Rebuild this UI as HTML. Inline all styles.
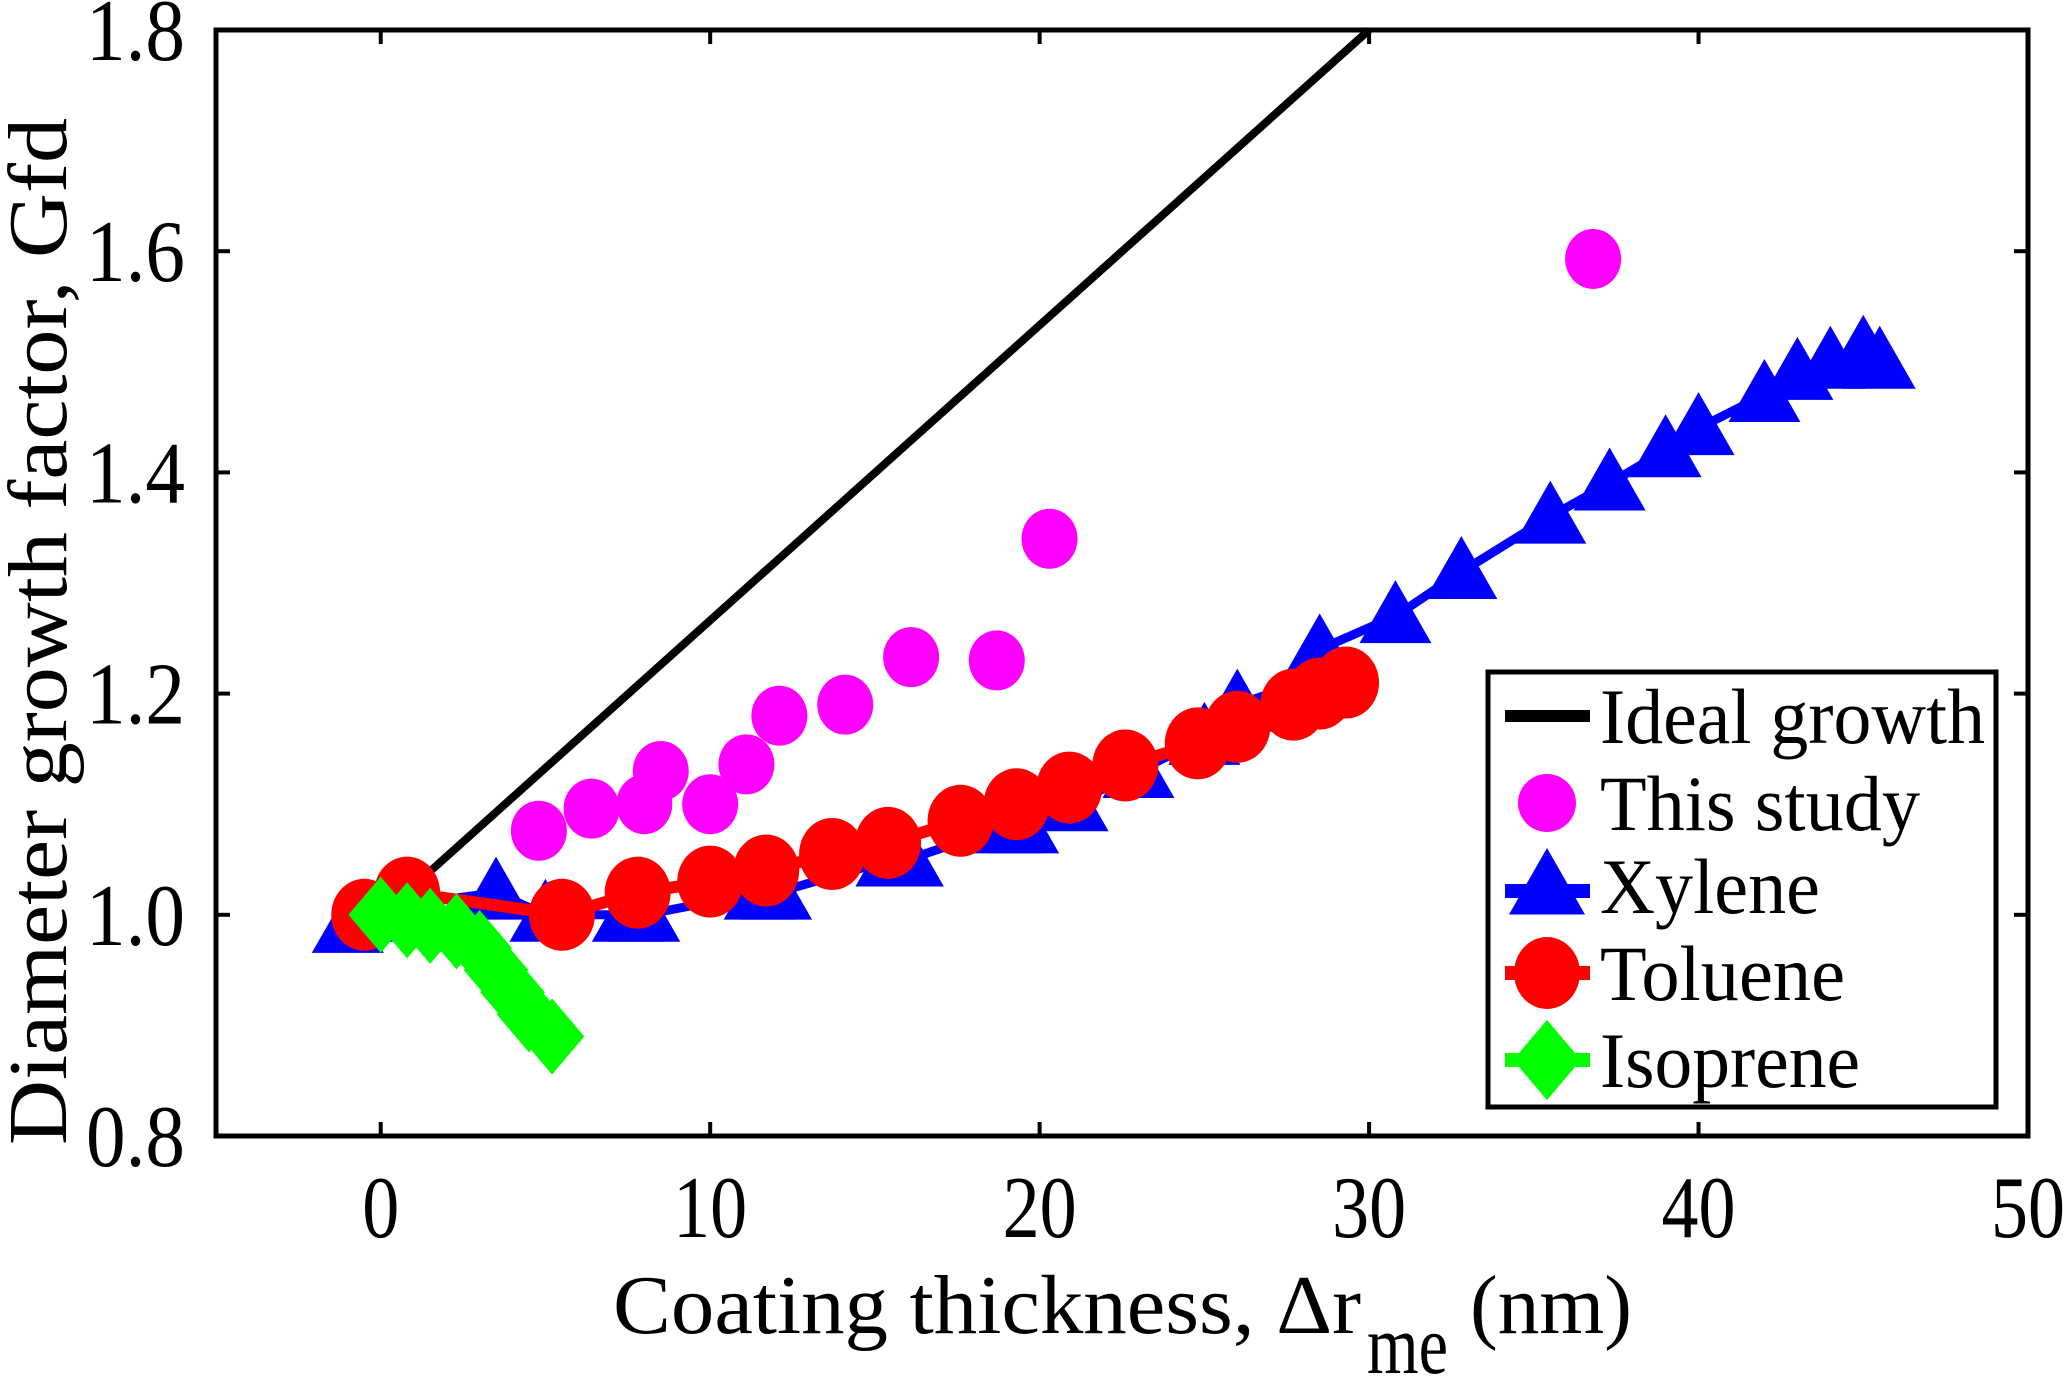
<!DOCTYPE html>
<html><head><meta charset="utf-8"><style>
html,body{margin:0;padding:0;background:#fff;}
svg{display:block;font-family:"Liberation Serif",serif;}
</style></head><body>
<svg id="chart" width="2067" height="1378" viewBox="0 0 2067 1378">
<g id="plot"></g>
</svg>
<script>
const xTicks=[0,10,20,30,40,50];
const yTicks=[0.8,1.0,1.2,1.4,1.6,1.8];
const yTickLabels=["0.8","1.0","1.2","1.4","1.6","1.8"];
const idealX=[1,30];
const idealY=[1.026,1.8];
const studyX=[4.8,6.4,8.0,8.5,10,11.1,12.1,14.1,16.1,18.7,20.3,36.8];
const studyY=[1.076,1.096,1.10,1.13,1.10,1.136,1.18,1.19,1.233,1.23,1.34,1.593];
const xyleneX=[-1,0,1,3.5,5,7.5,8,11.5,12,15.5,16,19,19.5,21,23,25,26,28,28.5,30.8,32.8,35.5,37.3,39,40,42,43,44,45,45.5];
const xyleneY=[0.99,1.0,1.01,1.02,1.0,1.0,1.0,1.02,1.02,1.05,1.05,1.08,1.08,1.1,1.13,1.16,1.19,1.21,1.24,1.27,1.31,1.36,1.39,1.42,1.44,1.47,1.49,1.5,1.51,1.5];
const tolueneX=[-0.5,0.8,5.5,7.8,10,11.7,13.7,15.4,17.6,19.3,20.9,22.6,24.8,26,27.7,28.5,29.3];
const tolueneY=[1.0,1.02,1.0,1.02,1.03,1.04,1.055,1.065,1.085,1.10,1.115,1.135,1.155,1.17,1.19,1.20,1.21];
const isopreneX=[0,0.8,1.5,2.3,3,3.5,4,4.5,5.2];
const isopreneY=[1.0,0.995,0.99,0.985,0.97,0.95,0.93,0.91,0.89];

const L=216,R=2028,T=30,B=1136;
const xMin=-5,xMax=50,yMin=0.8,yMax=1.8;
const sx=v=>L+(v-xMin)/(xMax-xMin)*(R-L);
const sy=v=>B-(v-yMin)/(yMax-yMin)*(B-T);
const NS="http://www.w3.org/2000/svg";
const plot=document.getElementById('plot');
function mk(tag,attrs,parent){const e=document.createElementNS(NS,tag);for(const k in attrs)e.setAttribute(k,attrs[k]);(parent||plot).appendChild(e);return e;}

xTicks.forEach((t,i)=>{
  const x=sx(t);
  let a=mk('line',{x1:x,y1:B,x2:x,y2:B-14,stroke:'#000','stroke-width':4});
  
  
  let b=mk('line',{x1:x,y1:T,x2:x,y2:T+14,stroke:'#000','stroke-width':4});
  
  
  const s=String(t);
  let lbl=mk('text',{x:x,y:1237,'font-size':88,'text-anchor':'middle',fill:'#000',textLength:s.length*37,lengthAdjust:'spacingAndGlyphs'});
  lbl.textContent=s;
  
  
});
yTicks.forEach((t,i)=>{
  const y=sy(t);
  let a=mk('line',{x1:L,y1:y,x2:L+14,y2:y,stroke:'#000','stroke-width':4});
  
  
  let b=mk('line',{x1:R,y1:y,x2:R-14,y2:y,stroke:'#000','stroke-width':4});
  
  
  let lbl=mk('text',{x:185,y:y+30,'font-size':88,'text-anchor':'end',fill:'#000',textLength:99,lengthAdjust:'spacingAndGlyphs'});
  lbl.textContent=yTickLabels[i];
  
  
});

let il=mk('line',{x1:sx(idealX[0]),y1:sy(idealY[0]),x2:sx(idealX[1]),y2:sy(idealY[1]),stroke:'#000','stroke-width':8});



function tri(cx,cy,s,fill,parent){return mk('polygon',{points:`${cx},${cy-s} ${cx-s*1.0},${cy+s*0.75} ${cx+s*1.0},${cy+s*0.75}`,fill:fill},parent);}
function dia(cx,cy,s,fill,parent){return mk('polygon',{points:`${cx},${cy-s} ${cx+s*0.85},${cy} ${cx},${cy+s} ${cx-s*0.85},${cy}`,fill:fill},parent);}

studyX.forEach((v,i)=>{
  let c=mk('ellipse',{cx:sx(v),cy:sy(studyY[i]),rx:28,ry:30,fill:'#ff00ff'});
  
  
});
let xp=mk('polyline',{points:xyleneX.map((v,i)=>sx(v)+','+sy(xyleneY[i])).join(' '),fill:'none',stroke:'#0000ff','stroke-width':9});


xyleneX.forEach((v,i)=>{
  let t=tri(sx(v),sy(xyleneY[i]),36,'#0000ff');
  
  
});
let tp=mk('polyline',{points:tolueneX.map((v,i)=>sx(v)+','+sy(tolueneY[i])).join(' '),fill:'none',stroke:'#ff0000','stroke-width':12});


tolueneX.forEach((v,i)=>{
  let c=mk('ellipse',{cx:sx(v),cy:sy(tolueneY[i]),rx:33,ry:36,fill:'#ff0000'});
  
  
});
let ip=mk('polyline',{points:isopreneX.map((v,i)=>sx(v)+','+sy(isopreneY[i])).join(' '),fill:'none',stroke:'#00ff00','stroke-width':34,'stroke-linejoin':'round'});


isopreneX.forEach((v,i)=>{
  let d=dia(sx(v),sy(isopreneY[i]),38,'#00ff00');
  
  
});

let ax=mk('rect',{x:L,y:T,width:R-L,height:B-T,fill:'none',stroke:'#000','stroke-width':5});



const lg=mk('g',{});


let lb=mk('rect',{x:1488,y:672,width:508,height:435,fill:'#fff',stroke:'#000','stroke-width':5},lg);


const legNames=["Ideal growth","This study","Xylene","Toluene","Isoprene"];
const legBase=[743,830,913,1000,1087];
const legW=[385,320,220,245,260];
legNames.forEach((n,i)=>{
  const cy=legBase[i]-27;
  const g=mk('g',{},lg);
  
  
  if(i===0) mk('line',{x1:1505,y1:cy,x2:1590,y2:cy,stroke:'#000','stroke-width':12},g);
  if(i===1) mk('ellipse',{cx:1547,cy:cy,rx:29,ry:29,fill:'#ff00ff'},g);
  if(i===2){mk('line',{x1:1505,y1:cy+5,x2:1590,y2:cy+5,stroke:'#0000ff','stroke-width':14},g);tri(1547,cy,38,'#0000ff',g);}
  if(i===3){mk('line',{x1:1505,y1:cy,x2:1590,y2:cy,stroke:'#ff0000','stroke-width':14},g);mk('ellipse',{cx:1547,cy:cy,rx:33,ry:36,fill:'#ff0000'},g);}
  if(i===4){mk('line',{x1:1505,y1:cy,x2:1590,y2:cy,stroke:'#00ff00','stroke-width':14},g);dia(1547,cy,40,'#00ff00',g);}
  const t=mk('text',{x:1600,y:legBase[i],'font-size':78,fill:'#000',textLength:legW[i],lengthAdjust:'spacingAndGlyphs'},g);
  t.textContent=n;
});
</script>
<script>
(function(){
const svg=document.getElementById('chart');
const NS="http://www.w3.org/2000/svg";
const xt=document.createElementNS(NS,'text');


xt.setAttribute('font-size','84');
xt.innerHTML='<tspan x="613" y="1333" textLength="748" lengthAdjust="spacingAndGlyphs">Coating thickness, Δr</tspan><tspan x="1367" y="1373" textLength="81" lengthAdjust="spacingAndGlyphs">me</tspan><tspan x="1470" y="1333" textLength="162" lengthAdjust="spacingAndGlyphs">(nm)</tspan>';
svg.appendChild(xt);
const yt=document.createElementNS(NS,'text');


yt.setAttribute('font-size','84');
yt.setAttribute('transform','translate(66,1145) rotate(-90)');
yt.setAttribute('textLength','1027');
yt.setAttribute('lengthAdjust','spacingAndGlyphs');
yt.textContent='Diameter growth factor, Gfd';
svg.appendChild(yt);
})();
</script>
</body></html>
